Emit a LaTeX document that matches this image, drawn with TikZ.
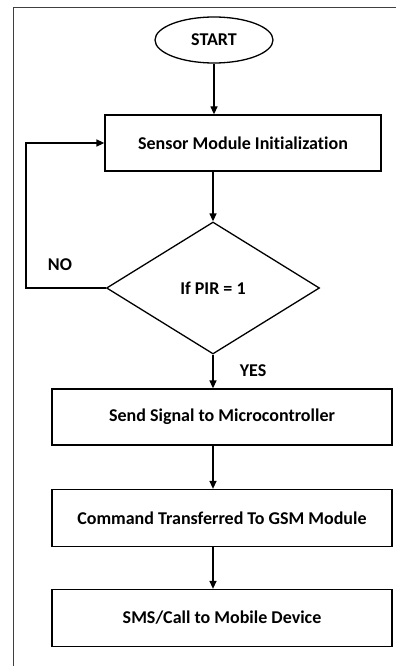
\documentclass[tikz,border=0pt]{standalone}
\usepackage{fontspec}
\setmainfont{Carlito}[Ligatures=NoCommon]
\usetikzlibrary{shapes,arrows.meta,positioning}

\begin{document}
\begin{tikzpicture}[x=1pt, y=-1pt, line width=1.3pt, font=\bfseries\fontsize{18}{21}\selectfont,
    arr/.style={-{Triangle[length=8pt,width=7pt]}}]
    \useasboundingbox (0,0) rectangle (396,666);

    % Frame
    \draw[line width=0.9pt, black!75] (13,666) -- (13,7) -- (396,7);

    % Start
    \node[ellipse, draw, minimum width=118pt, minimum height=46pt, inner sep=0pt] (start) at (214,40) {START};

    % Steps
    \node[rectangle, draw, minimum width=276pt, minimum height=56pt] (init) at (243,143) {Sensor Module Initialization};

    % Decision
    \node[diamond, draw, minimum width=213pt, minimum height=132pt, inner sep=0pt] (pir) at (213,288) {If PIR = 1};

    % Output path
    \node[rectangle, draw, minimum width=340pt, minimum height=56pt] (send) at (222,417) {Send Signal to Microcontroller};
    \node[rectangle, draw, minimum width=340pt, minimum height=57pt] (gsm) at (222,518) {Command Transferred To GSM Module};
    \node[rectangle, draw, minimum width=340pt, minimum height=57pt] (sms) at (222,618) {SMS/Call to Mobile Device};

    % Labels
    \node (no) at (60,265) {NO};
    \node (yes) at (253,371) {YES};

    % Flows
    \draw[arr] (start.south) -- (start.south |- init.north);
    \draw[arr] (pir.north |- init.south) -- (pir.north);
    \draw[arr] (pir.west) -- ++(-80,0) |- (init.west);
    \draw[arr] (pir.south) -- (pir.south |- send.north);
    \draw[arr] (pir.south |- send.south) -- (pir.south |- gsm.north);
    \draw[arr] (pir.south |- gsm.south) -- (pir.south |- sms.north);
\end{tikzpicture}
\end{document}
